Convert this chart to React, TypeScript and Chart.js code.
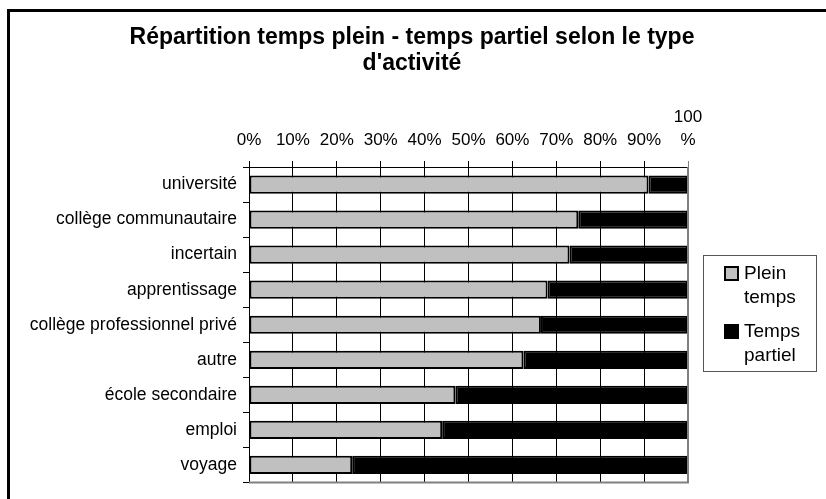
import { useEffect, useRef } from 'react';
import { Chart, registerables } from 'chart.js';

Chart.register(...registerables);

const categories = [
  'université',
  'collège communautaire',
  'incertain',
  'apprentissage',
  'collège professionnel privé',
  'autre',
  'école secondaire',
  'emploi',
  'voyage',
];
const pleinTemps = [91, 75, 73, 68, 66.5, 62.5, 47, 44, 23.5];
const tempsPartiel = [9, 25, 27, 32, 33.5, 37.5, 53, 56, 76.5];
const seriesNames = ['Plein temps', 'Temps partiel'];
const seriesColors = ['#C0C0C0', '#000000'];
const xTickLabels: (string | string[])[] = [
  '0%', '10%', '20%', '30%', '40%', '50%', '60%', '70%', '80%', '90%', ['100', '%'],
];
const titleLines = ['Répartition temps plein - temps partiel selon le type', "d'activité"];

const FONT = "'Liberation Sans', Arial, Helvetica, sans-serif";

export default function App() {
  const ref = useRef<HTMLCanvasElement>(null);

  useEffect(() => {
    if (!ref.current) return;

    const decor = {
      id: 'decor',
      beforeDraw(chart: any) {
        const ctx = chart.ctx;
        ctx.save();
        ctx.fillStyle = '#ffffff';
        ctx.fillRect(0, 0, chart.width, chart.height);
        // outer frame
        ctx.strokeStyle = '#000000';
        ctx.lineWidth = 3;
        ctx.strokeRect(8.5, 10.5, 1000, 800);
        // title
        ctx.fillStyle = '#000000';
        ctx.font = `bold 23px ${FONT}`;
        ctx.textAlign = 'center';
        ctx.textBaseline = 'alphabetic';
        titleLines.forEach((t, i) => ctx.fillText(t, 412, 44 + i * 26));
        ctx.restore();
      },
      afterDraw(chart: any) {
        const ctx = chart.ctx;
        const a = chart.chartArea;
        ctx.save();
        // plot area bottom/right border (gray)
        ctx.strokeStyle = '#808080';
        ctx.lineWidth = 2;
        ctx.beginPath();
        ctx.moveTo(a.left, a.bottom);
        ctx.lineTo(a.right, a.bottom);
        ctx.lineTo(a.right, a.top);
        ctx.stroke();
        // legend
        const lx = 703, ly = 255, lw = 113, lh = 116;
        ctx.strokeStyle = '#555555';
        ctx.lineWidth = 1;
        ctx.strokeRect(lx + 0.5, ly + 0.5, lw, lh);
        ctx.font = `19px ${FONT}`;
        ctx.textAlign = 'left';
        ctx.textBaseline = 'middle';
        const itemTops = [274, 332];
        seriesNames.forEach((name, i) => {
          const y = itemTops[i];
          ctx.fillStyle = seriesColors[i];
          ctx.fillRect(725, y - 7, 13, 13);
          ctx.strokeStyle = '#000000';
          ctx.lineWidth = 2;
          ctx.strokeRect(725, y - 7, 13, 13);
          ctx.fillStyle = '#000000';
          const words = name.split(' ');
          words.forEach((w, j) => ctx.fillText(w, 744, y + j * 24));
        });
        ctx.restore();
      },
    };

    const chart = new Chart(ref.current, {
      type: 'bar',
      data: {
        labels: categories,
        datasets: [
          {
            label: seriesNames[0],
            data: pleinTemps,
            backgroundColor: seriesColors[0],
            borderColor: '#000000',
            borderWidth: 2,
            borderSkipped: false,
            barPercentage: 0.52,
            categoryPercentage: 1,
          },
          {
            label: seriesNames[1],
            data: tempsPartiel,
            backgroundColor: seriesColors[1],
            borderColor: '#000000',
            borderWidth: 2,
            borderSkipped: false,
            barPercentage: 0.52,
            categoryPercentage: 1,
          },
        ],
      },
      options: {
        indexAxis: 'y',
        responsive: false,
        animation: false,
        events: [],
        layout: { padding: { left: 0, top: 0, right: 138, bottom: 15 } },
        plugins: {
          legend: { display: false },
          title: { display: false },
          tooltip: { enabled: false },
        },
        scales: {
          x: {
            type: 'linear',
            position: 'top',
            stacked: true,
            min: 0,
            max: 100,
            afterFit(scale: any) {
              scale.height = 167;
            },
            ticks: {
              stepSize: 10,
              color: '#000000',
              font: { family: FONT, size: 17, lineHeight: 1.35 },
              padding: 9,
              maxRotation: 0,
              autoSkip: false,
              callback: (_v: any, i: number) => xTickLabels[i],
            },
            grid: {
              color: (c: any) => (c.index === 10 ? '#808080' : '#000000'),
              lineWidth: 1,
              tickLength: 6,
              drawTicks: true,
            },
            border: { display: true, color: '#000000', width: 1 },
          },
          y: {
            type: 'category',
            stacked: true,
            afterFit(scale: any) {
              scale.width = 249;
            },
            ticks: {
              color: '#000000',
              font: { family: FONT, size: 17.5 },
              padding: 6,
              autoSkip: false,
            },
            grid: {
              offset: true,
              drawOnChartArea: false,
              color: '#000000',
              tickLength: 6,
            },
            border: { display: true, color: '#000000', width: 1 },
          },
        },
      },
      plugins: [decor],
    });

    return () => chart.destroy();
  }, []);

  return (
    <div style={{ position: 'fixed', left: 0, top: 0, width: 826, height: 499, background: '#ffffff' }}>
      <canvas ref={ref} width={826} height={499} style={{ display: 'block' }} />
    </div>
  );
}
